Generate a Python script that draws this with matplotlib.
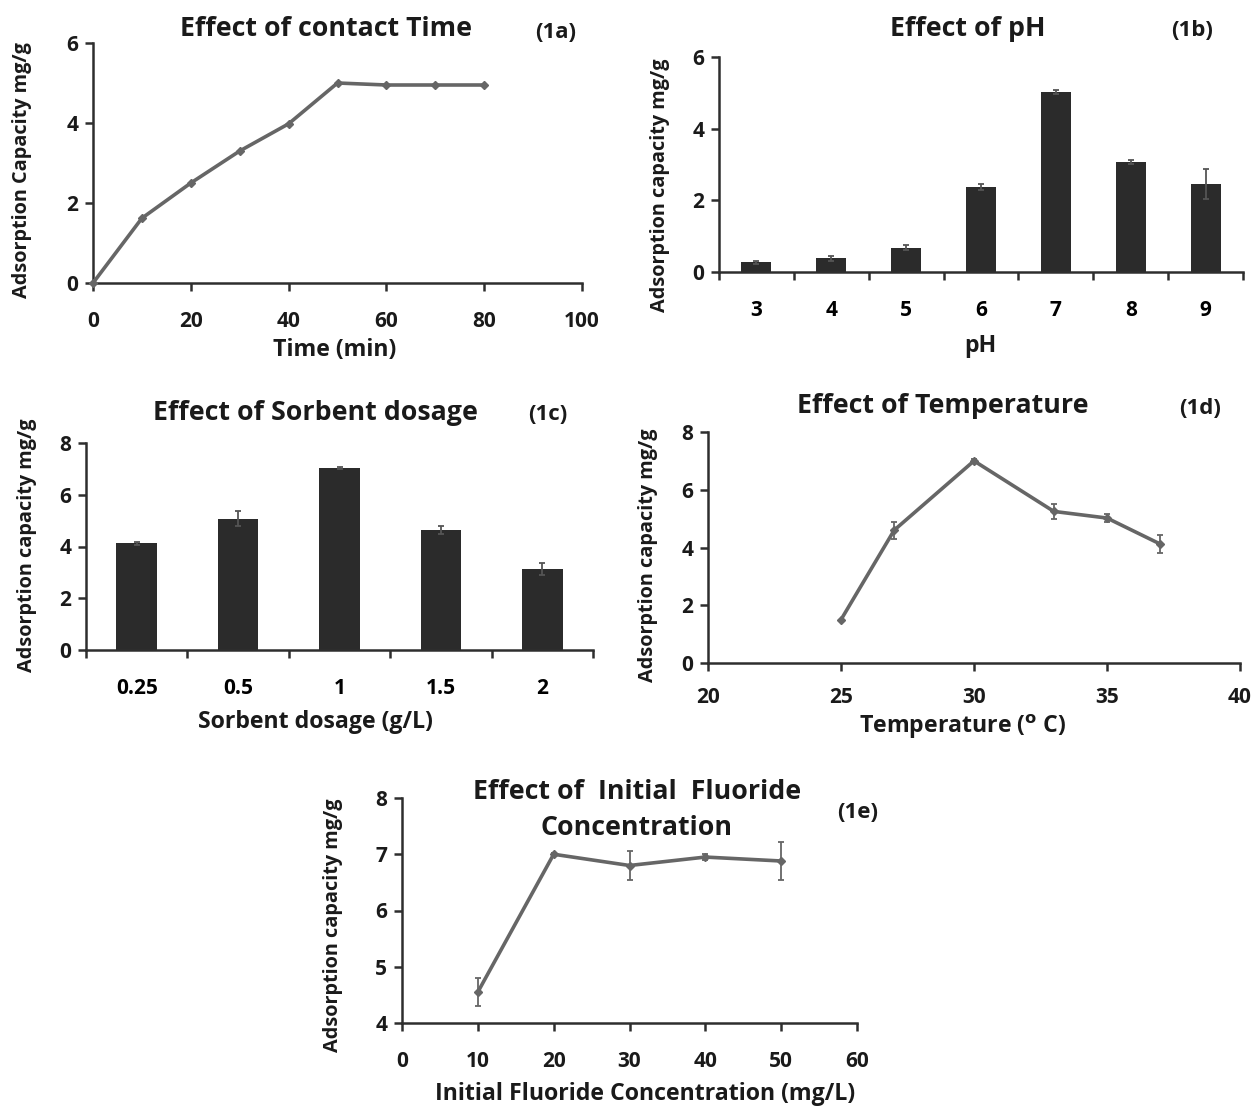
import matplotlib.pyplot as plt

plt.rcParams['font.family'] = ['Open Sans', 'DejaVu Sans']
plt.rcParams['font.weight'] = 'bold'

# 1a - contact time
time_min = [0, 10, 20, 30, 40, 50, 60, 70, 80]
cap_time = [0, 1.62, 2.5, 3.3, 3.98, 5.0, 4.95, 4.95, 4.95]

# 1b - pH
ph_labels = ['3', '4', '5', '6', '7', '8', '9']
cap_ph = [0.27, 0.38, 0.68, 2.38, 5.02, 3.07, 2.45]
err_ph = [0.05, 0.08, 0.06, 0.08, 0.06, 0.05, 0.42]

# 1c - sorbent dosage
dose_labels = ['0.25', '0.5', '1', '1.5', '2']
cap_dose = [4.12, 5.08, 7.02, 4.65, 3.13]
err_dose = [0.06, 0.28, 0.04, 0.15, 0.22]

# 1d - temperature
temp_c = [25, 27, 30, 33, 35, 37]
cap_temp = [1.5, 4.6, 7.0, 5.25, 5.02, 4.12]
err_temp = [0.0, 0.3, 0.05, 0.25, 0.15, 0.3]

# 1e - initial fluoride concentration
conc = [10, 20, 30, 40, 50]
cap_conc = [4.55, 7.0, 6.8, 6.95, 6.88]
err_conc = [0.25, 0.03, 0.25, 0.06, 0.33]

W, H = 1254, 1106
fig = plt.figure(figsize=(W / 100, H / 100), dpi=100)

AX_COL = '#2e2e2e'
LINE_COL = '#666666'
BAR_COL = '#2b2b2b'
TXT_COL = '#1a1a1a'
TICK_FS = 15
TITLE_FS = 19.3
XLAB_FS = 16.7
YLAB_FS = 14.3
TAG_FS = 16


def make_ax(l, r, t, b):
    ax = fig.add_axes([l / W, 1 - b / H, (r - l) / W, (b - t) / H])
    for s in ['top', 'right']:
        ax.spines[s].set_visible(False)
    for s in ['left', 'bottom']:
        ax.spines[s].set_color(AX_COL)
        ax.spines[s].set_linewidth(1.8)
    ax.tick_params(direction='out', length=5.5, width=1.8, color=AX_COL,
                   labelsize=TICK_FS, labelcolor=TXT_COL)
    ax.tick_params(axis='x', pad=15)
    ax.tick_params(axis='y', pad=5)
    return ax


def txt(x, y, s, size=13, rot=0):
    fig.text(x / W, 1 - y / H, s, fontsize=size, fontweight='bold',
             ha='center', va='center', rotation=rot, color=TXT_COL)


def line_panel(ax, x, y, err=None):
    ax.errorbar(x, y, yerr=err, color=LINE_COL, lw=2.6, marker='D', ms=4.5,
                mfc=LINE_COL, mec=LINE_COL, ecolor=LINE_COL, elinewidth=1.3,
                capsize=2.5, capthick=1.3, clip_on=False, zorder=3)


def bar_panel(ax, labels, y, err):
    pos = list(range(len(labels)))
    ax.bar(pos, y, width=0.4, color=BAR_COL, yerr=err,
           error_kw=dict(ecolor='#555555', elinewidth=1.3, capsize=2, capthick=1.3))
    ax.set_xlim(-0.5, len(labels) - 0.5)
    ax.set_xticks([p - 0.5 for p in pos] + [len(labels) - 0.5])
    ax.set_xticklabels([])
    ax.set_xticks(pos, minor=True)
    ax.set_xticklabels(labels, minor=True, fontsize=TICK_FS, fontweight='bold')
    ax.tick_params(axis='x', which='minor', length=0, pad=20)


def bold_ticks(ax):
    for lab in ax.get_xticklabels() + ax.get_yticklabels():
        lab.set_fontweight('bold')


# 1a
ax = make_ax(93, 582, 43, 283)
line_panel(ax, time_min, cap_time)
ax.set_xlim(0, 100)
ax.set_ylim(0, 6)
ax.set_xticks(range(0, 101, 20))
ax.set_yticks(range(0, 7, 2))
bold_ticks(ax)
txt(326, 29, 'Effect of contact Time', TITLE_FS)
txt(556, 32, '(1a)', TAG_FS)
txt(335, 350, 'Time (min)', XLAB_FS)
txt(22, 170, 'Adsorption Capacity mg/g', YLAB_FS, 90)

# 1b
ax = make_ax(719, 1243, 57, 272)
bar_panel(ax, ph_labels, cap_ph, err_ph)
ax.set_ylim(0, 6)
ax.set_yticks(range(0, 7, 2))
bold_ticks(ax)
txt(968, 29, 'Effect of pH', TITLE_FS)
txt(1192, 30, '(1b)', TAG_FS)
txt(980, 346, 'pH', XLAB_FS)
txt(660, 185, 'Adsorption capacity mg/g', YLAB_FS, 90)

# 1c
ax = make_ax(86, 593, 443, 650)
bar_panel(ax, dose_labels, cap_dose, err_dose)
ax.set_ylim(0, 8)
ax.set_yticks(range(0, 9, 2))
bold_ticks(ax)
txt(315, 413, 'Effect of Sorbent dosage', TITLE_FS)
txt(548, 414, '(1c)', TAG_FS)
txt(315, 722, 'Sorbent dosage (g/L)', XLAB_FS)
txt(27, 545, 'Adsorption capacity mg/g', YLAB_FS, 90)

# 1d
ax = make_ax(708, 1240, 432, 663)
line_panel(ax, temp_c, cap_temp, err_temp)
ax.set_xlim(20, 40)
ax.set_ylim(0, 8)
ax.set_xticks(range(20, 41, 5))
ax.set_yticks(range(0, 9, 2))
ax.tick_params(axis='x', pad=12)
bold_ticks(ax)
txt(943, 406, 'Effect of Temperature', TITLE_FS)
txt(1200, 408, '(1d)', TAG_FS)
txt(963, 727, 'Temperature ($\\mathbf{^{o}}$ C)', XLAB_FS)
txt(648, 555, 'Adsorption capacity mg/g', YLAB_FS, 90)

# 1e
ax = make_ax(402, 857, 798, 1023)
line_panel(ax, conc, cap_conc, err_conc)
ax.set_xlim(0, 60)
ax.set_ylim(4, 8)
ax.set_xticks(range(0, 61, 10))
ax.set_yticks(range(4, 9))
bold_ticks(ax)
txt(637, 792, 'Effect of  Initial  Fluoride', TITLE_FS)
txt(637, 828, 'Concentration', TITLE_FS)
txt(858, 813, '(1e)', TAG_FS)
txt(645, 1094, 'Initial Fluoride Concentration (mg/L)', XLAB_FS)
txt(333, 925, 'Adsorption capacity mg/g', YLAB_FS, 90)

fig.savefig('out.png', dpi=100)
